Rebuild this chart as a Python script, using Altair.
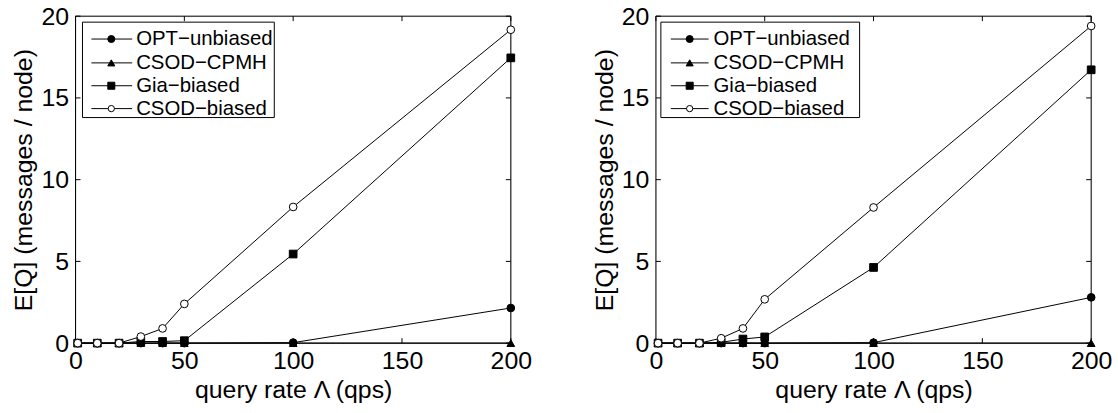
import altair as alt
import pandas as pd

# ---- data ----
x_vals = [1, 10, 20, 30, 40, 50, 100, 200]
series_names = ["OPT−unbiased", "CSOD−CPMH", "Gia−biased", "CSOD−biased"]

left_opt = [0, 0, 0, 0, 0, 0, 0.03, 2.15]
left_cpmh = [0, 0, 0, 0, 0, 0, 0, 0]
left_gia = [0, 0, 0, 0.1, 0.1, 0.15, 5.45, 17.45]
left_csod = [0, 0, 0, 0.4, 0.9, 2.4, 8.33, 19.17]

right_opt = [0, 0, 0, 0, 0, 0, 0.03, 2.8]
right_cpmh = [0, 0, 0, 0, 0, 0, 0, 0]
right_gia = [0, 0, 0, 0.05, 0.25, 0.38, 4.63, 16.72]
right_csod = [0, 0, 0, 0.3, 0.9, 2.68, 8.3, 19.4]

x_ticks = [0, 50, 100, 150, 200]
y_ticks = [0, 5, 10, 15, 20]

shapes = ["circle", "triangle-up", "square", "circle"]
fills = ["black", "black", "black", "white"]

FONT = "Liberation Sans"
W, H = 438, 329


def make_df(vals):
    rows = []
    for name, ys in zip(series_names, vals):
        for xv, yv in zip(x_vals, ys):
            rows.append({"x": xv, "y": yv, "series": name})
    return pd.DataFrame(rows)


def panel(vals, leg):
    df = make_df(vals)
    xs = alt.Scale(domain=[0, 200], nice=False)
    ys = alt.Scale(domain=[0, 20], nice=False)
    xenc = alt.X("x:Q", scale=xs, title="query rate Λ (qps)", axis=alt.Axis(
        values=x_ticks, ticks=False, tickSize=0, labelFlush=False,
        domain=False, grid=False, labelFontSize=25, titleFontSize=25,
        labelFont=FONT, titleFont=FONT, labelColor="black", titleColor="black",
        labelPadding=6, titlePadding=4, titleFontWeight="normal", format="d"))
    yenc = alt.Y("y:Q", scale=ys, title="E[Q] (messages / node)", axis=alt.Axis(
        values=y_ticks, ticks=False, tickSize=0, labelFlush=False,
        domain=False, grid=False, labelFontSize=25, titleFontSize=25,
        labelFont=FONT, titleFont=FONT, labelColor="black", titleColor="black",
        labelPadding=7, titlePadding=4, titleFontWeight="normal", format="d"))

    lines = alt.Chart(df).mark_line(color="black", strokeWidth=1).encode(
        x=xenc, y=yenc, detail="series:N")
    pts = alt.Chart(df).mark_point(filled=True, stroke="black", strokeWidth=1,
                                   opacity=1, size=60).encode(
        x=xenc, y=yenc,
        shape=alt.Shape("series:N", scale=alt.Scale(domain=series_names, range=shapes), legend=None),
        fill=alt.Fill("series:N", scale=alt.Scale(domain=series_names, range=fills), legend=None),
    )

    xt = pd.DataFrame({"x": x_ticks})
    yt = pd.DataFrame({"y": y_ticks})
    tb = alt.Chart(xt).mark_rule(color="black", strokeWidth=1).encode(
        x=xenc, y=alt.value(H), y2=alt.value(H - 5))
    tt = alt.Chart(xt).mark_rule(color="black", strokeWidth=1).encode(
        x=xenc, y=alt.value(0), y2=alt.value(5))
    tl = alt.Chart(yt).mark_rule(color="black", strokeWidth=1).encode(
        y=yenc, x=alt.value(0), x2=alt.value(5))
    tr = alt.Chart(yt).mark_rule(color="black", strokeWidth=1).encode(
        y=yenc, x=alt.value(W), x2=alt.value(W - 5))

    one = pd.DataFrame({"a": [0]})
    frame = alt.Chart(one).mark_rect(fill=None, stroke="black", strokeWidth=1).encode(
        x=alt.value(0), x2=alt.value(W), y=alt.value(0), y2=alt.value(H))
    layers = [frame, lines, tb, tt, tl, tr, pts]
    bx0, bx1, by0, by1, lx0, lx1, mx, tx, rows = leg
    box = alt.Chart(one).mark_rect(fill="white", stroke="black", strokeWidth=1).encode(
        x=alt.value(bx0), x2=alt.value(bx1), y=alt.value(by0), y2=alt.value(by1))
    layers.append(box)
    for i, name in enumerate(series_names):
        ry = rows[i]
        layers.append(alt.Chart(one).mark_rule(color="black", strokeWidth=1).encode(
            x=alt.value(lx0), x2=alt.value(lx1), y=alt.value(ry)))
        layers.append(alt.Chart(one).mark_point(
            shape=shapes[i], filled=True, fill=fills[i], stroke="black",
            strokeWidth=1, opacity=1, size=40 if fills[i] == "white" else 50).encode(
            x=alt.value(mx), y=alt.value(ry)))
        layers.append(alt.Chart(one).mark_text(
            align="left", baseline="middle", fontSize=20.5, font=FONT, color="black").encode(
            x=alt.value(tx), y=alt.value(ry), text=alt.value(name)))
    return alt.layer(*layers).properties(width=W, height=H)


left = panel([left_opt, left_cpmh, left_gia, left_csod],
             (7, 200, 6, 102, 16, 57, 36, 61, [23, 47, 70, 93]))
right = panel([right_opt, right_cpmh, right_gia, right_csod],
              (5, 205, 6, 102, 15, 53, 34, 58, [23, 47, 70, 93]))

chart = alt.hconcat(left, right, spacing=59).properties(
    padding={"left": 11, "top": 2, "right": 5, "bottom": 5}
).configure_view(stroke=None).configure(background="white")

chart.save("out.html", embed_options={"renderer": "svg", "actions": False})
